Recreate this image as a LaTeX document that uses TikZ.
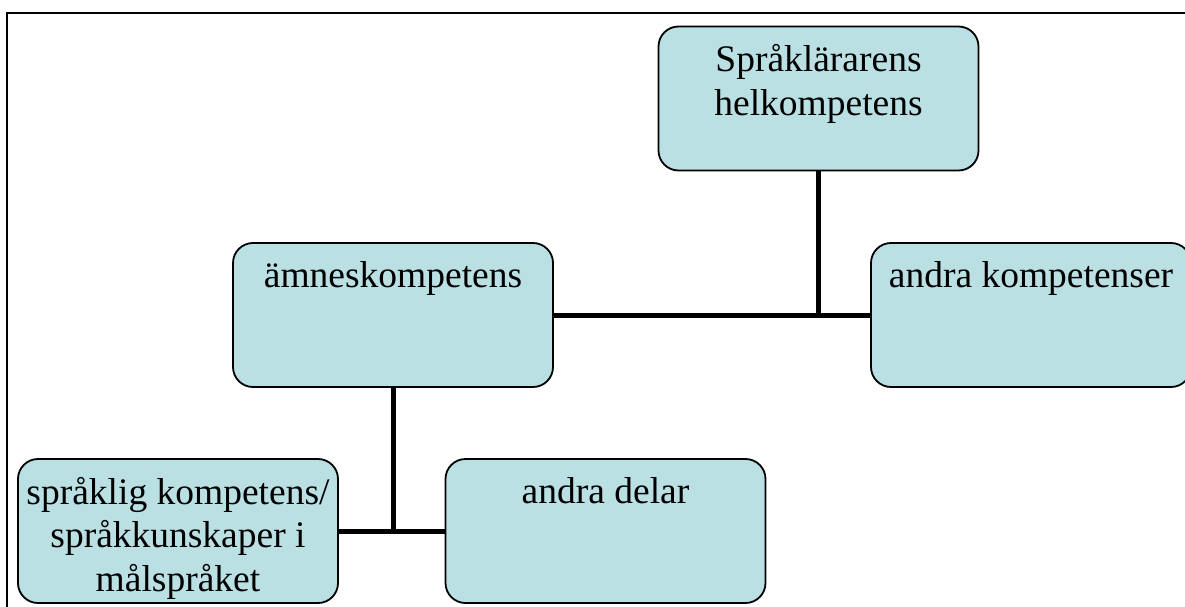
\documentclass[tikz,border=0pt]{standalone}
\usepackage{fontspec}
\setmainfont{Liberation Serif}
\definecolor{boxfill}{RGB}{186,224,228}
\begin{document}
\begin{tikzpicture}[x=1pt,y=-1pt,
  box/.style={draw=black, line width=1.8pt, fill=boxfill, rounded corners=20pt,
    minimum width=320pt, minimum height=144pt, inner sep=0pt},
  lbl/.style={anchor=north, yshift=-19pt, align=center, inner sep=0pt,
    font=\fontsize{37.5}{43.5}\selectfont},
  conn/.style={line width=5pt, black},
  frame/.style={line width=2.5pt, black}]
\useasboundingbox (0,0) rectangle (1185,607);
\draw[frame] (1190,13) -- (7,13) -- (7,612);
\node[box, label={[lbl]north:{Språklärarens\\helkompetens}}] (top) at (818.5,98.5) {};
\node[box, label={[lbl]north:{ämneskompetens}}] (ame) at (393,315) {};
\node[box, label={[lbl]north:{andra kompetenser}}] (andk) at (1031,315) {};
\node[box, label={[lbl]north:{språklig kompetens/\\språkkunskaper i\\målspråket}}] (spr) at (178,531) {};
\node[box, label={[lbl]north:{andra delar}}] (del) at (605.5,531) {};
\coordinate (j1) at (top.south |- ame.east);
\coordinate (j2) at (ame.south |- spr.east);
\draw[conn] (top.south) -- (j1);
\draw[conn] (ame.east) -- (andk.west);
\draw[conn] (ame.south) -- (j2);
\draw[conn] (spr.east) -- (del.west);
\end{tikzpicture}
\end{document}
